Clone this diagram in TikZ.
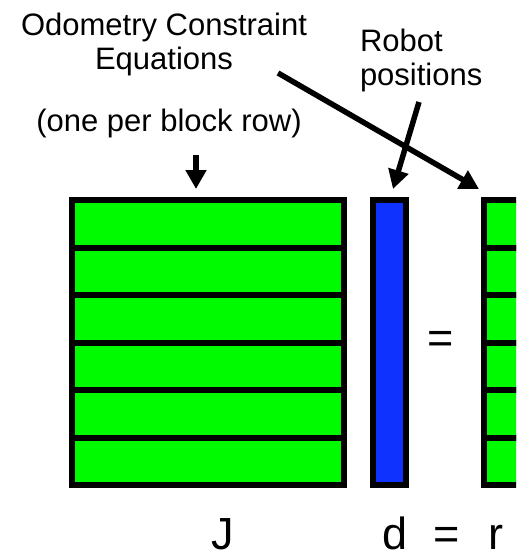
\documentclass[tikz,border=0pt]{standalone}
\usepackage{fontspec}
\setmainfont{Liberation Sans}
\usetikzlibrary{arrows.meta}
\definecolor{cellgreen}{RGB}{0,250,0}
\definecolor{colblue}{RGB}{15,50,255}
\tikzset{
  cell/.style={draw=black, line width=6pt, rectangle, inner sep=0pt, outer sep=0pt},
  jrow/.style={cell, fill=cellgreen, minimum width=271.5pt, minimum height=47.5pt},
  rrow/.style={cell, fill=cellgreen, minimum width=37pt, minimum height=47.5pt},
  dcol/.style={cell, fill=colblue, minimum width=33pt, minimum height=285pt},
  lbl/.style={font=\fontsize{31}{34}\selectfont, inner sep=0pt, outer sep=0pt},
  big/.style={font=\fontsize{45}{50}\selectfont, inner sep=0pt, outer sep=0pt},
  pointer/.style={line width=5.5pt, -{Triangle[length=19pt,width=20pt]}},
}
\begin{document}
\begin{tikzpicture}[x=1pt,y=-1pt]
\clip (0,0) rectangle (516,556);
\useasboundingbox (0,0) rectangle (516,556);
% matrices
\foreach \i in {1,...,6}{
  \node[jrow] (J\i) at (207.75,{200+47.5*(\i-0.5)}) {};
  \node[rrow] (R\i) at (502,{200+47.5*(\i-0.5)}) {};
}
\node[dcol] (D) at (389.5,342.5) {};
% equals
\node[big, anchor=center] (eqmid) at (441,342) {=};
% labels
\node[lbl, align=center, anchor=base] (odo) at (164,69.5) {Odometry Constraint\\Equations};
\node[lbl, align=left, anchor=base west] (robot) at (360,86) {Robot\\positions};
\node[lbl, anchor=base] (oneper) at (169,131.7) {(one per block row)};
% bottom labels
\node[big, anchor=base, text depth=0pt] (lJ) at (223,549) {J};
\node[big, anchor=base, text depth=0pt] (ld) at (395,549) {d};
\node[big, anchor=base, text depth=0pt] (leq) at (446.7,549) {=};
\node[big, anchor=base, text depth=0pt] (lr) at (496,549) {r};
% arrows
\coordinate (odostart) at (278,73);
\coordinate (odotip) at (479,189);
\coordinate (robstart) at (419,102);
\coordinate (robtip) at (393,189);
\coordinate (onestart) at (196,155);
\coordinate (onetip) at (196,189);
\draw[pointer] (odostart) -- (odotip);
\draw[pointer] (robstart) -- (robtip);
\draw[pointer] (onestart) -- (onetip);
\end{tikzpicture}
\end{document}
